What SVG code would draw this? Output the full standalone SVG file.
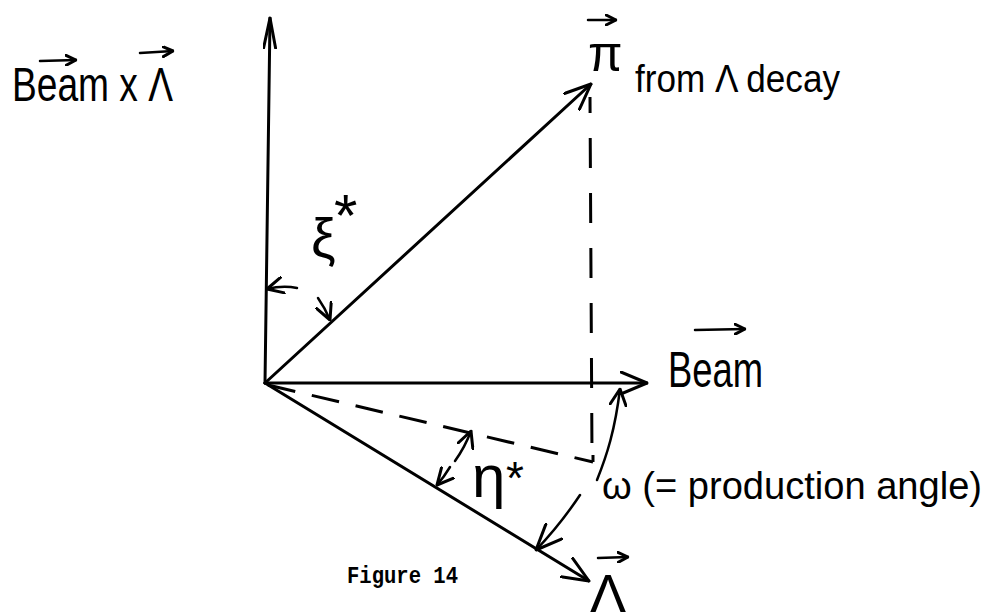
<svg xmlns="http://www.w3.org/2000/svg" width="991" height="613" viewBox="0 0 991 613">
<style>
.ln{fill:none;stroke:#000;stroke-width:3;stroke-linecap:round;stroke-linejoin:round}
.thin{fill:none;stroke:#000;stroke-width:2.5;stroke-linecap:round;stroke-linejoin:round}
.dash{fill:none;stroke:#000;stroke-width:3;stroke-linecap:butt}
.hw{font-family:"Liberation Sans","DejaVu Sans",sans-serif;fill:#000}
.tw{font-family:"Liberation Mono","DejaVu Sans Mono",monospace;fill:#000;font-weight:bold}
.mk{fill:none;stroke:#000;stroke-width:3;stroke-linecap:round;stroke-linejoin:round}
</style>
<defs>
<marker id="arr" markerUnits="userSpaceOnUse" viewBox="0 0 28 24" refX="27" refY="12" markerWidth="28" markerHeight="24" orient="auto"><path class="mk" d="M1,1 L27,12 L1,23"/></marker>
<marker id="arrn" markerUnits="userSpaceOnUse" viewBox="0 0 32 14" refX="31" refY="7" markerWidth="32" markerHeight="14" orient="auto"><path class="mk" d="M1,1 L31,7 L1,13"/></marker>
<marker id="arrs" markerUnits="userSpaceOnUse" viewBox="0 0 18 18" refX="17" refY="9" markerWidth="18" markerHeight="18" orient="auto"><path class="mk" d="M1,1 L17,9 L1,17"/></marker>
<marker id="arrt" markerUnits="userSpaceOnUse" viewBox="0 0 12 12" refX="11" refY="6" markerWidth="12" markerHeight="12" orient="auto"><path class="mk" d="M1,1 L11,6 L1,11"/></marker>
</defs>
<rect width="991" height="613" fill="#fff"/>
<g id="connectors">
<path class="ln" d="M265,383 L270,18" marker-end="url(#arrn)"/>
<path class="ln" d="M265,383 L647,383" marker-end="url(#arr)"/>
<path class="ln" d="M265,383 L591,84" marker-end="url(#arr)"/>
<path class="ln" d="M265,383 L589,581" marker-end="url(#arr)"/>
<path class="dash" d="M590,97 L592,455" stroke-dasharray="30 25" stroke-dashoffset="14"/>
<path class="dash" d="M593,455 L593,462"/>
<path class="dash" d="M268,385 L593,462" stroke-dasharray="28 17"/>
<path class="thin" d="M297,288 Q283,285 267,289" marker-end="url(#arrs)"/>
<path class="thin" d="M318,298 Q325,308 330,320" marker-end="url(#arrs)"/>
<path class="thin" d="M455,461 Q465,447 471,431" marker-end="url(#arrs)"/>
<path class="thin" d="M450,467 Q444,477 437,485" marker-end="url(#arrs)"/>
<path class="thin" d="M597,480 C607,455 615,430 620,389" marker-end="url(#arrs)"/>
<path class="thin" d="M580,495 Q560,525 536,550" marker-end="url(#arr)"/>
</g>
<g id="label-beam-cross-lambda">
<text class="hw" x="12" y="101" font-size="48" textLength="161" lengthAdjust="spacingAndGlyphs">Beam x Λ</text>
<path class="thin" d="M40,61 L76,60" marker-end="url(#arrt)"/>
<path class="thin" d="M140,53 L173,51" marker-end="url(#arrt)"/>
</g>
<g id="label-pi">
<text class="hw" x="588" y="71" font-size="50">π</text>
<path class="thin" d="M588,20 L616,20" marker-end="url(#arrt)"/>
<text class="hw" x="635" y="92" font-size="38" textLength="205" lengthAdjust="spacingAndGlyphs">from Λ decay</text>
</g>
<g id="label-beam">
<text class="hw" x="668" y="387" font-size="50" textLength="95" lengthAdjust="spacingAndGlyphs">Beam</text>
<path class="thin" d="M695,330 L745,329" marker-end="url(#arrt)"/>
</g>
<g id="label-xi">
<text class="hw" x="311" y="257" font-size="55">ξ</text>
<text class="hw" x="334" y="236" font-size="60">*</text>
</g>
<g id="label-eta">
<text class="hw" x="472" y="497" font-size="60">η</text>
<text class="hw" x="506" y="494" font-size="46">*</text>
</g>
<g id="label-omega">
<text class="hw" x="602" y="499" font-size="39" textLength="380" lengthAdjust="spacingAndGlyphs">ω (= production angle)</text>
</g>
<g id="label-lambda">
<text class="hw" x="590" y="612" font-size="54">Λ</text>
<path class="thin" d="M598,558 L628,557" marker-end="url(#arrt)"/>
</g>
<g id="caption">
<text class="tw" x="347" y="583" font-size="24" textLength="111" lengthAdjust="spacingAndGlyphs">Figure 14</text>
</g>
</svg>
